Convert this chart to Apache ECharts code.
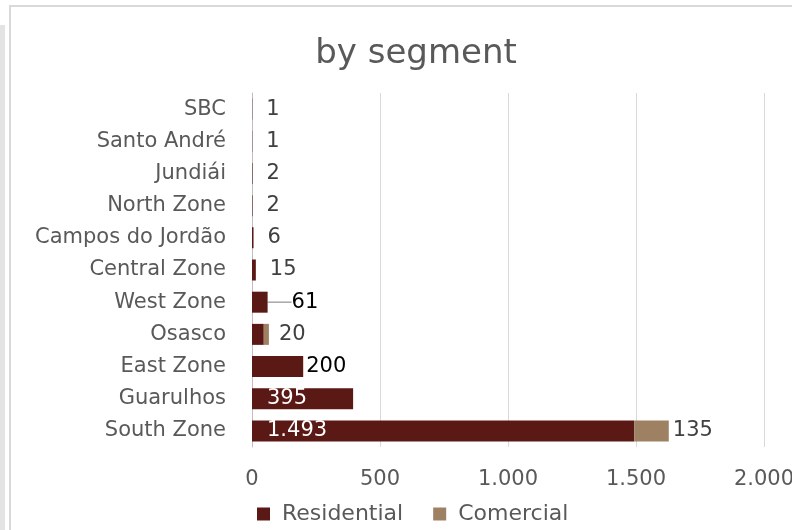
<!DOCTYPE html>
<html><head><meta charset="utf-8">
<script src="https://cdn.jsdelivr.net/npm/echarts@6/dist/echarts.min.js"></script>
<style>html,body{margin:0;padding:0;background:#fff}#c{width:792px;height:530px}</style>
</head><body><div id="c"></div>
<script>
var categories = ['South Zone','Guarulhos','East Zone','Osasco','West Zone','Central Zone','Campos do Jordão','North Zone','Jundiái','Santo André','SBC'];
var residential = [1493, 395, 200, 46, 61, 15, 6, 2, 2, 1, 1];
var comercial = [135, 0, 0, 20, 0, 0, 0, 0, 0, 0, 0];
var xTicks = [0, 500, 1000, 1500, 2000];
var FONT = 'DejaVu Sans';
function fmt(v){ return String(v).replace(/\B(?=(\d{3})+(?!\d))/g, '.'); }

var resData = residential.map(function(v, i){
  var item = {value: v};
  if (i === 0 || i === 1) {
    item.label = {position: 'insideLeft', distance: 15, color: '#ffffff'};
  } else if (i === 3) {
    item.label = {show: false};
  } else if (i === 2) {
    item.label = {position: 'right', distance: 3, color: '#000000'};
  } else if (i === 4) {
    item.label = {position: 'right', distance: 4, color: '#000000'};
    item.labelLine = {show: true};
  } else {
    item.label = {position: 'right', distance: 14};
  }
  return item;
});
var comData = comercial.map(function(v, i){
  var item = {value: v};
  if (v === 0) item.label = {show: false};
  else if (i === 3) item.label = {distance: 10};
  return item;
});

var chart = echarts.init(document.getElementById('c'), null, {renderer: 'canvas'});
chart.setOption({
  animation: false,
  backgroundColor: '#ffffff',
  title: {
    text: 'by segment', left: 411, top: 32, textAlign: 'center',
    textStyle: {fontFamily: FONT, fontSize: 34, fontWeight: 'normal', color: '#595959'}
  },
  legend: {
    data: ['Residential', 'Comercial'], left: 252, top: 498,
    itemWidth: 13, itemHeight: 13, itemGap: 30, icon: 'rect',
    textStyle: {fontFamily: FONT, fontSize: 22, color: '#595959', padding: [0, 0, 0, 7]}
  },
  grid: {left: 252, right: 28, top: 93, bottom: 83, containLabel: false, outerBoundsMode: 'none'},
  xAxis: {
    type: 'value', min: 0, max: 2000, interval: 500,
    axisLine: {show: false}, axisTick: {show: false},
    splitLine: {lineStyle: {color: '#d9d9d9', width: 1}},
    axisLabel: {fontFamily: FONT, fontSize: 21, color: '#595959', margin: 22,
      formatter: function(v){ return xTicks.indexOf(v) >= 0 ? fmt(v) : ''; }}
  },
  yAxis: {
    type: 'category', data: categories,
    axisLine: {show: true, lineStyle: {color: '#bfbfbf', width: 1}},
    axisTick: {show: false},
    axisLabel: {fontFamily: FONT, fontSize: 21, color: '#595959', margin: 26}
  },
  series: [
    {name: 'Residential', type: 'bar', stack: 't', barWidth: 21, data: resData,
      itemStyle: {color: '#5B1916'},
      label: {show: true, fontFamily: FONT, fontSize: 21, color: '#404040', formatter: function(p){ return fmt(p.value); }},
      labelLine: {show: false, lineStyle: {color: '#a6a6a6', width: 1.5}},
      labelLayout: function(p){
        if (p.dataIndex === 4) {
          var r = p.rect, l = p.labelRect;
          var cy = l.y + l.height / 2;
          var lx = l.x + 20;
          return {dx: 20, labelLinePoints: [[r.x + r.width * 0.55, r.y + r.height * 0.2], [r.x + r.width + 2, cy], [lx - 4, cy]]};
        }
        return {};
      }
    },
    {name: 'Comercial', type: 'bar', stack: 't', barWidth: 21, data: comData,
      itemStyle: {color: '#9E8062'},
      label: {show: true, position: 'right', distance: 4, fontFamily: FONT, fontSize: 21, color: '#404040', formatter: function(p){ return fmt(p.value); }}
    }
  ],
  graphic: [
    {type: 'rect', shape: {x: 0, y: 25, width: 5, height: 505}, style: {fill: '#e3e3e3'}, silent: true},
    {type: 'polyline', shape: {points: [[10, 530], [10, 6], [792, 6]]}, style: {stroke: '#d9d9d9', lineWidth: 2, fill: null}, silent: true}
  ]
});
</script></body></html>
